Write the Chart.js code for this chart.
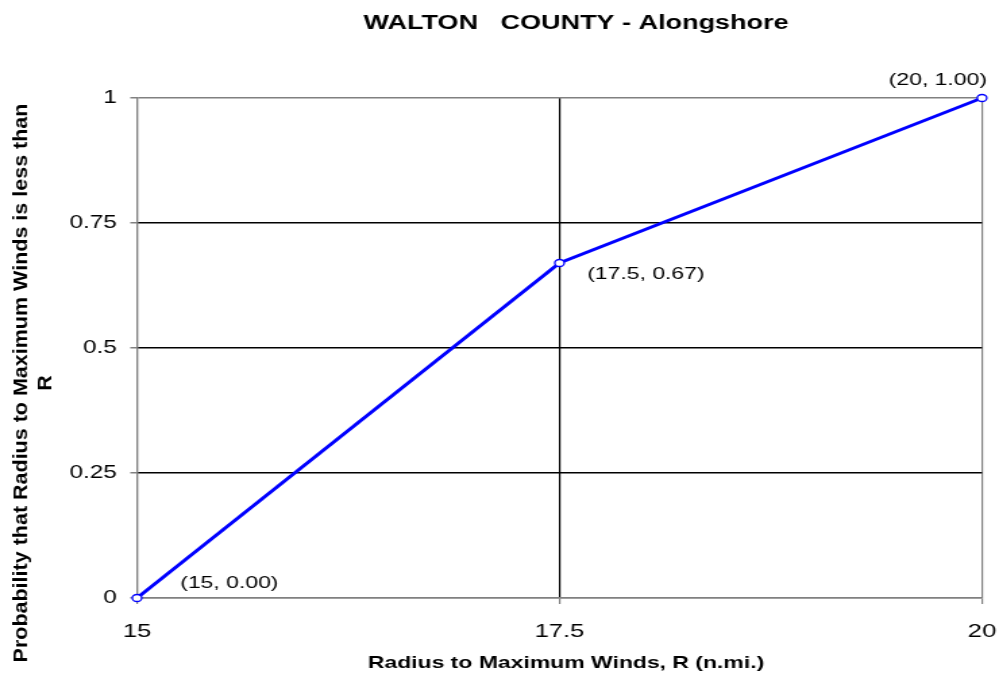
<!DOCTYPE html>
<html>
<head>
<meta charset="utf-8">
<script src="https://cdn.jsdelivr.net/npm/chart.js@4/dist/chart.umd.min.js"></script>
<style>
  html, body { margin: 0; padding: 0; background: #fff; overflow: hidden; }
  /* the source picture is widened horizontally, so the chart is drawn narrow and stretched */
  #wrap { width: 740px; height: 679px; transform: scaleX(1.35); transform-origin: 0 0; }
</style>
</head>
<body>
<div id="wrap"><canvas id="chart"></canvas></div>
<script>
const titleText = 'WALTON   COUNTY - Alongshore';
const xTitle = 'Radius to Maximum Winds, R (n.mi.)';
const yTitle = ['Probability that Radius to Maximum Winds is less than', 'R'];

const xValues = [15, 17.5, 20];
const yValues = [0, 0.67, 1];
const pointLabels = ['(15, 0.00)', '(17.5, 0.67)', '(20, 1.00)'];

const xTicks = [15, 17.5, 20];
const xTickLabels = ['15', '17.5', '20'];
const yTicks = [0, 0.25, 0.5, 0.75, 1];
const yTickLabels = ['0', '0.25', '0.5', '0.75', '1'];

const FONT = "'Liberation Sans', Arial, sans-serif";
const S = 1.35; // horizontal stretch of the container

// where each data label sits relative to its point (align, dx, dy)
const labelPlace = [
    { align: 'left', dx: 32, dy: -15 },
    { align: 'left', dx: 20.5, dy: 11 },
    { align: 'right', dx: 3.7, dy: -17.5 }
];

const edgeColor = '#808080';

const textPlugin = {
    id: 'texts',
    afterDatasetsDraw(chart) {
        const ctx = chart.ctx;
        const xs = chart.scales.x, ys = chart.scales.y;
        ctx.save();
        ctx.fillStyle = '#000';
        ctx.textBaseline = 'middle';

        // point labels
        ctx.font = '17px ' + FONT;
        for (let i = 0; i < xValues.length; i++) {
            const p = labelPlace[i];
            const px = xs.getPixelForValue(xValues[i]);
            const py = ys.getPixelForValue(yValues[i]);
            ctx.textAlign = p.align;
            ctx.fillText(pointLabels[i], px + p.dx, py + p.dy);
        }

        // chart title
        ctx.textAlign = 'center';
        ctx.font = 'bold 20px ' + FONT;
        ctx.fillText(titleText, 576 / S, 23);

        // x axis title
        ctx.font = 'bold 17px ' + FONT;
        ctx.fillText(xTitle, 566 / S, 663);

        // y axis title, two lines, rotated
        ctx.font = 'bold 21.5px ' + FONT;
        const lineX = [21 / S, 46 / S];
        for (let i = 0; i < yTitle.length; i++) {
            ctx.save();
            ctx.translate(lineX[i], 383);
            ctx.rotate(-Math.PI / 2);
            ctx.scale(1, 0.72);
            ctx.fillText(yTitle[i], 0, 0);
            ctx.restore();
        }
        ctx.restore();
    }
};

new Chart(document.getElementById('chart').getContext('2d'), {
    type: 'line',
    data: {
        datasets: [{
            data: xValues.map((x, i) => ({ x: x, y: yValues[i] })),
            borderColor: '#0000ff',
            borderWidth: 3,
            tension: 0,
            pointRadius: 3.5,
            pointBackgroundColor: '#ffffff',
            pointBorderColor: '#0000ff',
            pointBorderWidth: 1.3,
            clip: false
        }]
    },
    options: {
        responsive: true,
        maintainAspectRatio: false,
        animation: false,
        layout: {
            padding: { top: 98, right: 740 - 982 / S, left: 0, bottom: 0 }
        },
        plugins: {
            legend: { display: false },
            tooltip: { enabled: false }
        },
        scales: {
            x: {
                type: 'linear',
                min: 15,
                max: 20,
                afterBuildTicks: (scale) => { scale.ticks = xTicks.map(v => ({ value: v })); },
                afterFit: (scale) => {
                    scale.height = 679 - 598;
                    scale.paddingLeft = 0;
                    scale.paddingRight = 0;
                },
                ticks: {
                    callback: (v, i) => xTickLabels[i],
                    color: '#000',
                    font: { family: FONT, size: 19 },
                    padding: 16,
                    maxRotation: 0,
                    autoSkip: false
                },
                grid: {
                    color: (c) => (c.tick && (c.tick.value === 15 || c.tick.value === 20)) ? edgeColor : '#000',
                    lineWidth: 1.2,
                    tickLength: 6,
                    tickColor: edgeColor
                },
                border: { color: edgeColor, width: 1.5 }
            },
            y: {
                min: 0,
                max: 1,
                afterBuildTicks: (scale) => { scale.ticks = yTicks.map(v => ({ value: v })); },
                afterFit: (scale) => {
                    scale.width = 137 / S;
                    scale.paddingTop = 0;
                    scale.paddingBottom = 0;
                },
                ticks: {
                    callback: (v, i) => yTickLabels[i],
                    color: '#000',
                    font: { family: FONT, size: 18 },
                    padding: 10,
                    autoSkip: false
                },
                grid: {
                    color: (c) => (c.tick && (c.tick.value === 0 || c.tick.value === 1)) ? edgeColor : '#000',
                    lineWidth: 1.5,
                    tickLength: 5,
                    tickColor: edgeColor
                },
                border: { color: edgeColor, width: 1.2 }
            }
        }
    },
    plugins: [textPlugin]
});
</script>
</body>
</html>
